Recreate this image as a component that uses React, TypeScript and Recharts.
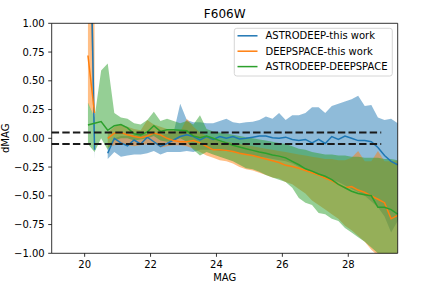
import React from 'react';
import { ComposedChart, Area, Line, XAxis, YAxis, ReferenceLine } from 'recharts';

// ---------------- data ----------------
const mag = [
  20.1, 20.3, 20.5, 20.7, 20.9, 21.1, 21.3, 21.5, 21.7, 21.9,
  22.1, 22.3, 22.5, 22.7, 22.9, 23.1, 23.3, 23.5, 23.7, 23.9,
  24.1, 24.3, 24.5, 24.7, 24.9, 25.1, 25.3, 25.5, 25.7, 25.9,
  26.1, 26.3, 26.5, 26.7, 26.9, 27.1, 27.3, 27.5, 27.7, 27.9,
  28.1, 28.3, 28.5, 28.7, 28.9, 29.1, 29.3, 29.5,
];

// ASTRODEEP - this work
const adMid = [
  3.0, -0.1, null, -0.13, 0.0, -0.04, -0.065, -0.015, -0.05, 0.01,
  -0.03, -0.07, -0.045, -0.015, 0.015, 0.03, 0.015, -0.015, 0.015, -0.01,
  0.015, 0.0, 0.015, -0.005, 0.0, 0.01, 0.02, 0.02, 0.005, 0.0,
  0.01, -0.01, -0.02, -0.01, -0.04, -0.01, -0.045, 0.015, -0.01, 0.02,
  0.0, -0.02, -0.02, -0.03, -0.08, -0.15, -0.2, -0.23,
];
const adLo = [
  2.0, -0.18, null, -0.18, -0.12, -0.16, -0.15, -0.14, -0.14, -0.13,
  -0.11, -0.14, -0.12, -0.12, -0.12, -0.11, -0.12, -0.1, -0.1, -0.1,
  -0.11, -0.11, -0.12, -0.13, -0.14, -0.15, -0.16, -0.17, -0.18, -0.19,
  -0.2, -0.22, -0.25, -0.27, -0.3, -0.32, -0.34, -0.36, -0.38, -0.41,
  -0.44, -0.47, -0.5, -0.55, -0.6, -0.68, -0.82, -0.72,
];
const adHi = [
  4.0, 0.05, null, -0.07, 0.0, 0.02, 0.02, 0.03, 0.03, 0.04,
  0.04, 0.03, 0.04, 0.05, 0.3, 0.16, 0.14, 0.14, 0.13, 0.13,
  0.15, 0.17, 0.14, 0.13, 0.14, 0.145, 0.16, 0.19, 0.17, 0.22,
  0.16, 0.2, 0.2, 0.22, 0.27, 0.27, 0.22, 0.28, 0.3, 0.32,
  0.34, 0.37, 0.28, 0.29, 0.18, 0.16, 0.17, 0.13,
];

// DEEPSPACE - this work
const dtMid = [
  0.72, 0.22, null, 0.0, 0.045, 0.05, 0.03, 0.015, 0.005, 0.02,
  0.045, 0.03, 0.0, -0.02, -0.03, -0.03, -0.02, -0.04, -0.07, -0.1,
  -0.1, -0.105, -0.115, -0.13, -0.14, -0.15, -0.165, -0.18, -0.195, -0.21,
  -0.235, -0.245, -0.26, -0.28, -0.3, -0.32, -0.345, -0.37, -0.4, -0.43,
  -0.42, -0.45, -0.47, -0.5, -0.53, -0.56, -0.7, -0.67,
];
const dtLo = [
  0.3, 0.18, null, -0.08, -0.06, -0.05, -0.06, -0.07, -0.06, -0.05,
  -0.04, -0.08, -0.07, -0.06, -0.06, -0.07, -0.09, -0.12, -0.15, -0.17,
  -0.19, -0.2, -0.22, -0.25, -0.27, -0.28, -0.3, -0.32, -0.34, -0.35,
  -0.38, -0.4, -0.44, -0.48, -0.54, -0.58, -0.62, -0.66, -0.7, -0.76,
  -0.8, -0.85, -0.9, -0.97, -1.02, -1.05, -1.1, -1.1,
];
const dtHi = [
  2.5, 1.5, null, 0.05, 0.1, 0.12, 0.1, 0.08, 0.07, 0.16,
  0.12, 0.1, 0.08, 0.07, 0.06, 0.17, 0.1, 0.05, 0.02, 0.0,
  -0.02, -0.03, -0.04, -0.05, -0.06, -0.07, -0.08, -0.09, -0.1, -0.11,
  -0.12, -0.13, -0.14, -0.15, -0.16, -0.17, -0.18, -0.18, -0.19, -0.19,
  -0.17, -0.11, -0.2, -0.2, -0.11, -0.2, -0.2, -0.2,
];

// ASTRODEEP - DEEPSPACE
const addMid = [
  0.115, 0.13, 0.145, 0.07, 0.11, 0.12, 0.09, 0.04, 0.03, 0.055,
  0.11, 0.06, 0.075, 0.075, 0.07, 0.065, 0.02, 0.005, 0.02, 0.0,
  -0.02, -0.04, -0.06, -0.075, -0.09, -0.105, -0.12, -0.13, -0.145, -0.155,
  -0.17, -0.2, -0.23, -0.265, -0.285, -0.31, -0.33, -0.36, -0.4, -0.43,
  -0.46, -0.48, -0.49, -0.5, -0.6, -0.6, -0.62, -0.66,
];
const addLo = [
  -0.05, -0.12, 0.0, -0.1, -0.02, 0.0, 0.0, -0.02, -0.01, 0.0,
  0.02, -0.02, -0.03, -0.02, 0.0, -0.03, -0.1, -0.15, -0.12, -0.14,
  -0.16, -0.18, -0.2, -0.23, -0.26, -0.27, -0.29, -0.32, -0.34, -0.36,
  -0.38, -0.43, -0.52, -0.56, -0.58, -0.65, -0.66, -0.7, -0.72, -0.78,
  -0.82, -0.86, -0.9, -0.95, -1.0, -1.05, -1.1, -1.1,
];
const addHi = [
  0.31, 0.18, 0.59, 0.65, 0.22, 0.18, 0.17, 0.13, 0.12, 0.16,
  0.23, 0.15, 0.17, 0.15, 0.13, 0.15, 0.12, 0.2, 0.08, 0.06,
  0.05, 0.04, 0.03, 0.02, 0.01, 0.0, -0.01, -0.02, -0.03, -0.04,
  -0.05, -0.07, -0.09, -0.1, -0.12, -0.13, -0.14, -0.14, -0.15, -0.15,
  -0.16, -0.16, -0.17, -0.17, -0.17, -0.18, -0.18, -0.19,
];

const xTicks = [20, 22, 24, 26, 28];
const yTicks = [-1, -0.75, -0.5, -0.25, 0, 0.25, 0.5, 0.75, 1];
const xDomain = [19, 29.5];
const yDomain = [-1, 1];
const refLevels = [0.05, -0.05];
const refSpan = [19, 29];

const seriesNames = ['ASTRODEEP-this work', 'DEEPSPACE-this work', 'ASTRODEEP-DEEPSPACE'];
const colors = ['#1f77b4', '#ff7f0e', '#2ca02c'];

const band = (lo: (number | null)[], hi: (number | null)[], i: number) =>
  lo[i] == null || hi[i] == null ? [null, null] : [lo[i], hi[i]];

const rows = mag.map((m, i) => ({
  mag: m,
  ad: adMid[i],
  dt: dtMid[i],
  add: addMid[i],
  adBand: band(adLo, adHi, i),
  dtBand: band(dtLo, dtHi, i),
  addBand: band(addLo, addHi, i),
}));

const fmtY = (v: number) => (v < 0 ? '\u2212' : '') + Math.abs(v).toFixed(2);

const FONT = 'DejaVu Sans, sans-serif';

export default function App() {
  const tickStyle = { fontSize: 10, fill: '#000', fontFamily: FONT };
  return (
    <div style={{ position: 'absolute', left: 0, top: 0, width: 432, height: 288, background: '#fff', fontFamily: FONT }}>
      <ComposedChart
        width={432}
        height={288}
        data={rows}
        margin={{ top: 23.3, right: 34.3, bottom: 0, left: 0 }}
      >
        <XAxis
          dataKey="mag"
          type="number"
          domain={xDomain}
          ticks={xTicks}
          height={34.7}
          tickSize={3.5}
          tickMargin={4}
          tick={tickStyle}
          tickLine={{ stroke: '#000', strokeWidth: 0.8 }}
          axisLine={{ stroke: '#000', strokeWidth: 0.8 }}
          allowDataOverflow
        />
        <YAxis
          type="number"
          domain={yDomain}
          ticks={yTicks}
          width={51.7}
          tickSize={3.5}
          tickMargin={3.5}
          tick={tickStyle}
          tickFormatter={fmtY}
          tickLine={{ stroke: '#000', strokeWidth: 0.8 }}
          axisLine={{ stroke: '#000', strokeWidth: 0.8 }}
          allowDataOverflow
        />
        <Area dataKey="adBand" type="linear" stroke="none" fill={colors[0]} fillOpacity={0.5} isAnimationActive={false} connectNulls={false} activeDot={false} />
        <Area dataKey="dtBand" type="linear" stroke="none" fill={colors[1]} fillOpacity={0.5} isAnimationActive={false} connectNulls={false} activeDot={false} />
        <Area dataKey="addBand" type="linear" stroke="none" fill={colors[2]} fillOpacity={0.5} isAnimationActive={false} connectNulls={false} activeDot={false} />
        <Line dataKey="ad" type="linear" stroke={colors[0]} strokeWidth={1.5} dot={false} activeDot={false} isAnimationActive={false} connectNulls={false} />
        <Line dataKey="dt" type="linear" stroke={colors[1]} strokeWidth={1.5} dot={false} activeDot={false} isAnimationActive={false} connectNulls={false} />
        <Line dataKey="add" type="linear" stroke={colors[2]} strokeWidth={1.5} dot={false} activeDot={false} isAnimationActive={false} connectNulls={false} />
        {refLevels.map((lv) => (
          <ReferenceLine
            key={lv}
            segment={[{ x: refSpan[0], y: lv }, { x: refSpan[1], y: lv }]}
            stroke="#1a1a1a"
            strokeWidth={2}
            strokeDasharray="7.4 3.2"
          />
        ))}
        <ReferenceLine y={yDomain[1]} stroke="#000" strokeWidth={0.8} />
        <ReferenceLine x={xDomain[1]} stroke="#000" strokeWidth={0.8} />
      </ComposedChart>
      <svg width={432} height={288} style={{ position: 'absolute', left: 0, top: 0, pointerEvents: 'none' }}>
        <text x={224.7} y={17.8} textAnchor="middle" fontSize={12} fontFamily={FONT} fill="#000">F606W</text>
        <text x={224.7} y={281} textAnchor="middle" fontSize={10} fontFamily={FONT} fill="#000">MAG</text>
        <text transform="translate(9,138.3) rotate(-90)" x={0} y={0} textAnchor="middle" fontSize={10} fontFamily={FONT} fill="#000">dMAG</text>
        <rect x={234.3} y={28.3} width={158} height={47.7} rx={2.5} fill="#fff" fillOpacity={0.8} stroke="#cccccc" strokeWidth={0.8} />
        {seriesNames.map((n, i) => {
          const cy = 35.8 + i * 15.4;
          return (
            <g key={n}>
              <line x1={237.5} x2={257.5} y1={cy} y2={cy} stroke={colors[i]} strokeWidth={1.5} />
              <text x={265.5} y={cy + 3.6} fontSize={10} fontFamily={FONT} fill="#000">{n}</text>
            </g>
          );
        })}
      </svg>
    </div>
  );
}
